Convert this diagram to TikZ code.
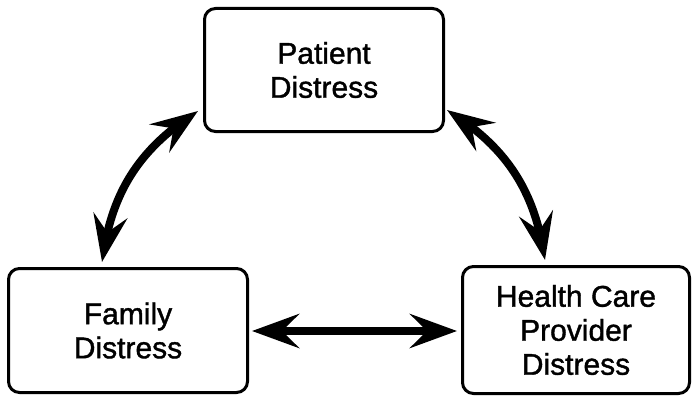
\documentclass[tikz,border=0pt]{standalone}
\usepackage{fontspec}
\setmainfont{Liberation Sans}
\newfontfamily\boxfont[RawFeature={embolden=1.3}]{Liberation Sans}
\usetikzlibrary{arrows.meta,bending}
\begin{document}
\begin{tikzpicture}[x=1pt,y=1pt,
  box/.style={draw, line width=3pt, rounded corners=11pt, align=center, inner sep=0pt,
    font=\boxfont\fontsize{30}{34}\selectfont},
  link/.style={line width=8pt,
    {Stealth[length=47pt,width=34pt,inset=17pt,flex]}-{Stealth[length=47pt,width=34pt,inset=17pt,flex]}}]
\useasboundingbox (0,0) rectangle (692,397);
\node[box, minimum width=239pt, minimum height=123pt] (pat) at (324,327) {Patient\\Distress};
\node[box, minimum width=239pt, minimum height=124pt] (fam) at (128,66.5) {Family\\Distress};
\node[box, minimum width=227pt, minimum height=127pt] (hcp) at (576,67) {Health Care\\Provider\\Distress};
\draw[link] ([xshift=-26pt,yshift=5pt]fam.north) to[bend left=25] ([xshift=-5pt,yshift=22pt]pat.south west);
\draw[link] ([xshift=2pt,yshift=23pt]pat.south east) to[bend left=25] ([xshift=-31pt,yshift=5pt]hcp.north);
\draw[link] ([xshift=3pt,yshift=-0.5pt]fam.east) -- ([xshift=-4pt,yshift=-1pt]hcp.west);
\end{tikzpicture}
\end{document}
